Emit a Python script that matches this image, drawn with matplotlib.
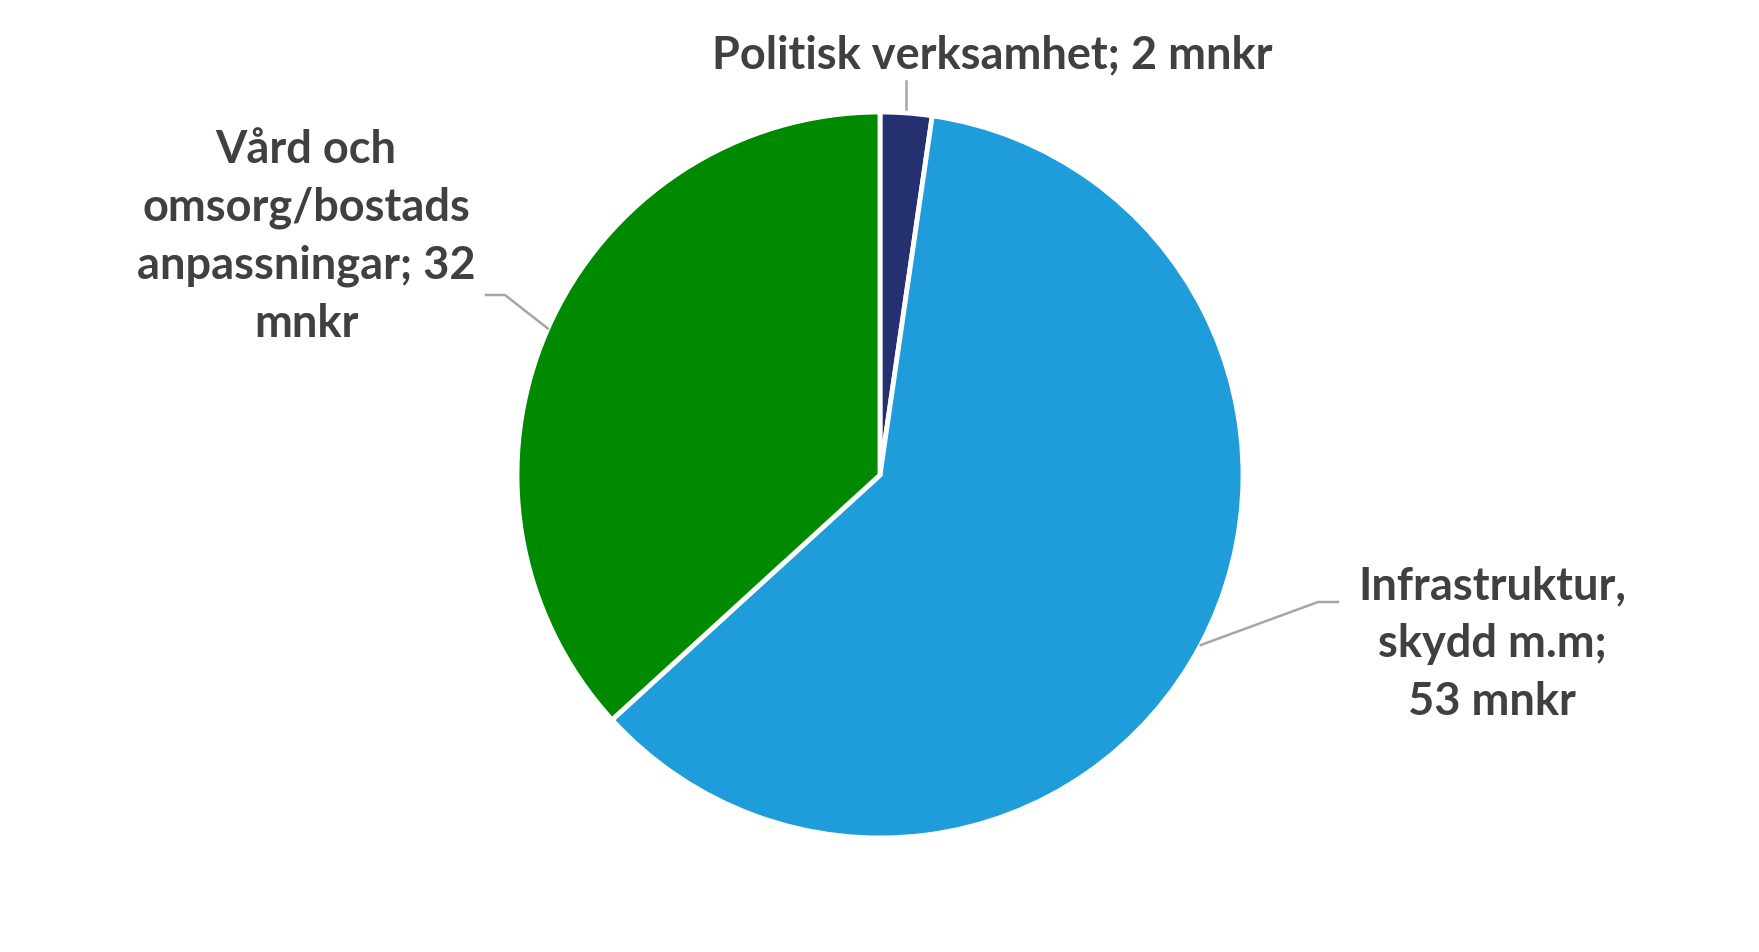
import numpy as np
import matplotlib
matplotlib.use("Agg")
import matplotlib.pyplot as plt

categories = ["Politisk verksamhet", "Infrastruktur, skydd m.m", "Vård och omsorg/bostads anpassningar"]
values = [2, 53, 32]
labels = ["Politisk verksamhet; 2 mnkr",
          "Infrastruktur,\nskydd m.m;\n53 mnkr",
          "Vård och\nomsorg/bostads\nanpassningar; 32\nmnkr"]
colors = ["#253070", "#1f9cda", "#008a00"]

W, H = 1759, 952
fig = plt.figure(figsize=(W / 100, H / 100), dpi=100)
ax = fig.add_axes([0, 0, 1, 1])

cx, cy, R = 880, H - 475, 363
wedges, _ = ax.pie(values, colors=colors, startangle=90, counterclock=False,
                   center=(cx, cy), radius=R,
                   wedgeprops=dict(edgecolor="white", linewidth=3.5))
ax.set_xlim(0, W)
ax.set_ylim(0, H)
ax.set_aspect("auto")
ax.axis("off")

font = dict(family=["Lato", "DejaVu Sans"], fontweight="bold", color="#404040",
            fontsize=32.5, ha="center", va="center", linespacing=1.47)
lc = "#a6a6a6"

def anchor(w):
    ang = np.deg2rad((w.theta1 + w.theta2) / 2)
    return cx + R * np.cos(ang), cy + R * np.sin(ang)

# Politisk
x0, y0 = anchor(wedges[0])
ax.plot([x0, x0], [y0 + 4, H - 81], color=lc, lw=1.8)
ax.text(992, H - 55, labels[0], **font)

# Infrastruktur
x1, y1 = anchor(wedges[1])
ax.plot([x1, 1318, 1338], [y1, H - 602, H - 602], color=lc, lw=1.8)
ax.text(1492, H - 644, labels[1], **font)

# Vård
x2, y2 = anchor(wedges[2])
ax.plot([x2, 505, 486], [y2, H - 295, H - 295], color=lc, lw=1.8)
ax.text(306, H - 237, labels[2], **font)

fig.savefig("out.png", dpi=100, facecolor="white")
